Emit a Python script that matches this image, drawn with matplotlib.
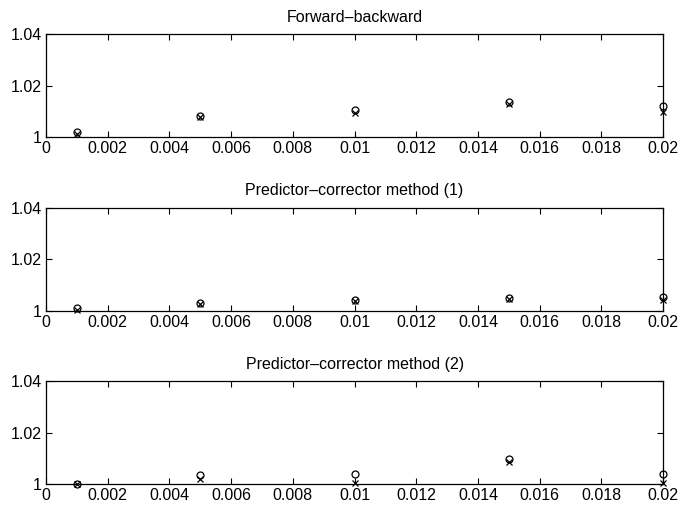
import matplotlib
matplotlib.use('Agg')
import matplotlib.pyplot as plt
from matplotlib.ticker import FuncFormatter

plt.rcParams['font.family'] = ['Liberation Sans', 'DejaVu Sans']

# step sizes
dt = [0.001, 0.005, 0.01, 0.015, 0.02]

titles = ['Forward\u2013backward',
          'Predictor\u2013corrector method (1)',
          'Predictor\u2013corrector method (2)']

# circles / crosses for each panel
circ_fb = [1.0018, 1.0081, 1.0104, 1.0137, 1.0119]
cross_fb = [1.0010, 1.0078, 1.0094, 1.0130, 1.0096]
circ_pc1 = [1.0012, 1.0029, 1.0042, 1.0050, 1.0055]
cross_pc1 = [1.0004, 1.0025, 1.0036, 1.0045, 1.0043]
circ_pc2 = [1.0001, 1.0035, 1.0039, 1.0097, 1.0038]
cross_pc2 = [1.0000, 1.0019, 1.0005, 1.0084, 1.0005]

circles = [circ_fb, circ_pc1, circ_pc2]
crosses = [cross_fb, cross_pc1, cross_pc2]

xticks = [0, 0.002, 0.004, 0.006, 0.008, 0.01, 0.012, 0.014, 0.016, 0.018, 0.02]
yticks = [1, 1.02, 1.04]


def fmt(v, pos):
    return ('%.3f' % v).rstrip('0').rstrip('.')

fig = plt.figure(figsize=(6.88, 5.07), dpi=100)

# axes boxes in figure fractions
bottoms = [0.7298, 0.3872, 0.0454]
for i in range(3):
    ax = fig.add_axes([0.0669, bottoms[i], 0.897, 0.203])
    ax.plot(dt, circles[i], 'o', mfc='none', mec='black', ms=5, mew=0.9)
    ax.plot(dt, crosses[i], 'x', color='black', ms=5, mew=0.9)
    ax.set_xlim(0, 0.02)
    ax.set_ylim(1, 1.04)
    ax.set_xticks(xticks)
    ax.set_yticks(yticks)
    ax.xaxis.set_major_formatter(FuncFormatter(fmt))
    ax.yaxis.set_major_formatter(FuncFormatter(fmt))
    ax.tick_params(direction='in', top=True, right=True, labelsize=11.5,
                   length=4.5, width=0.8, pad=3)
    for sp in ax.spines.values():
        sp.set_linewidth(0.9)
    ax.set_title(titles[i], fontsize=11.5, pad=9)
    for m in ax.lines:
        m.set_clip_on(False)

plt.savefig('out.png', dpi=100)
